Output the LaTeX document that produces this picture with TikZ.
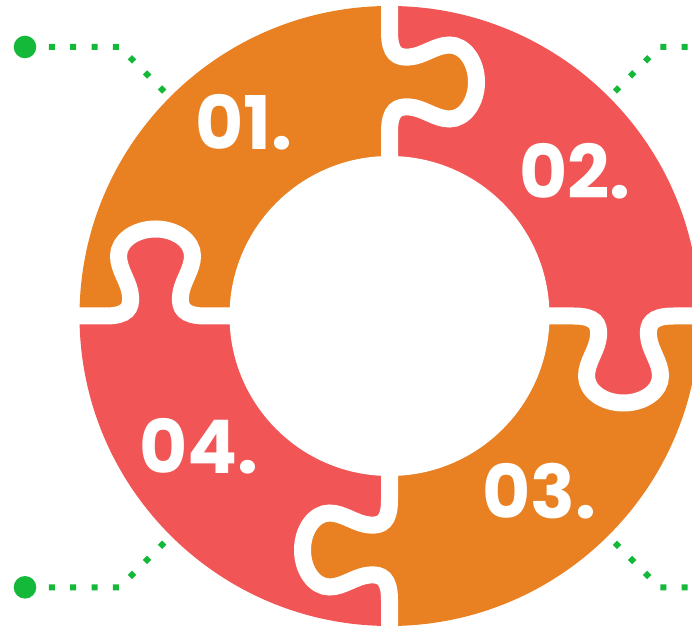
\documentclass[tikz,border=0pt]{standalone}
\usepackage{fontspec}
\newfontfamily\puzzlefont{Poppins}
\definecolor{puzzleorange}{RGB}{233,129,35}
\definecolor{puzzlered}{RGB}{241,85,85}
\definecolor{linkgreen}{RGB}{20,185,58}

\begin{document}
\begin{tikzpicture}[x=1pt,y=1pt,
    piece label/.style={text=white,inner sep=0pt,font=\puzzlefont\bfseries\fontsize{74}{74}\selectfont},
    end dot/.style={circle,fill=linkgreen,minimum size=22.6pt,inner sep=0pt},
    dot link/.style={draw=linkgreen,line width=6pt,dash pattern=on 6pt off 15.3pt,dash phase=8.9pt},
    gap line/.style={draw=white,line width=17pt}]

  \clip (0,0) rectangle (692,626);
  \coordinate (c) at (389.5,310);

  % dotted links (left ends carry a dot, right ends run off the page)
  \node[end dot] (tl dot) at (25,579) {};
  \node[end dot] (bl dot) at (25,38.7) {};
  \coordinate (tl bend) at (119.5,579);
  \coordinate (tl end) at (185,513.5);
  \coordinate (bl bend) at (119.5,38.7);
  \coordinate (bl end) at (185,104.2);
  \coordinate (tr start) at (742.7,579);
  \coordinate (tr bend) at (659.5,579);
  \coordinate (tr end) at (594,513.5);
  \coordinate (br start) at (742.7,38.7);
  \coordinate (br bend) at (659.5,38.7);
  \coordinate (br end) at (594,104.2);

  \draw[dot link] (tl dot) -- (tl bend) -- (tl end);
  \draw[dot link] (bl dot) -- (bl bend) -- (bl end);
  \draw[dot link] (tr start) -- (tr bend) -- (tr end);
  \draw[dot link] (br start) -- (br bend) -- (br end);

  % the four quarters
  \foreach \a/\col in {0/puzzlered,90/puzzleorange,180/puzzlered,270/puzzleorange}
    \fill[\col] (c) -- ++(\a:310) arc[start angle=\a,end angle=\a+90,radius=310] -- cycle;

  % tabs and white cuts
  \foreach \a/\col in {0/puzzlered,90/puzzleorange,180/puzzlered,270/puzzleorange}
  {
    \begin{scope}[shift={(c)},rotate=\a,yscale=-1]
      \fill[\col] (184,-5) -- (184,0)
        .. controls (206,0) and (210,8) .. (209,20)
        .. controls (208,34) and (197,46) .. (197,60)
        .. controls (197,75) and (213.6,87) .. (234,87)
        .. controls (254.4,87) and (271,75) .. (271,60)
        .. controls (271,46) and (260,34) .. (259,20)
        .. controls (258,8) and (262,0) .. (284,0) -- (284,-5) -- cycle;
      \draw[gap line] (150,0) -- (184,0)
        .. controls (206,0) and (210,8) .. (209,20)
        .. controls (208,34) and (197,46) .. (197,60)
        .. controls (197,75) and (213.6,87) .. (234,87)
        .. controls (254.4,87) and (271,75) .. (271,60)
        .. controls (271,46) and (260,34) .. (259,20)
        .. controls (258,8) and (262,0) .. (284,0) -- (320,0);
    \end{scope}
  }

  \fill[white] (c) circle[radius=160];

  \node[piece label] (1) at (244,504) {01.};
  \node[piece label] (2) at (575,455) {02.};
  \node[piece label] (3) at (539,134.5) {03.};
  \node[piece label] (4) at (199,180) {04.};
\end{tikzpicture}
\end{document}
